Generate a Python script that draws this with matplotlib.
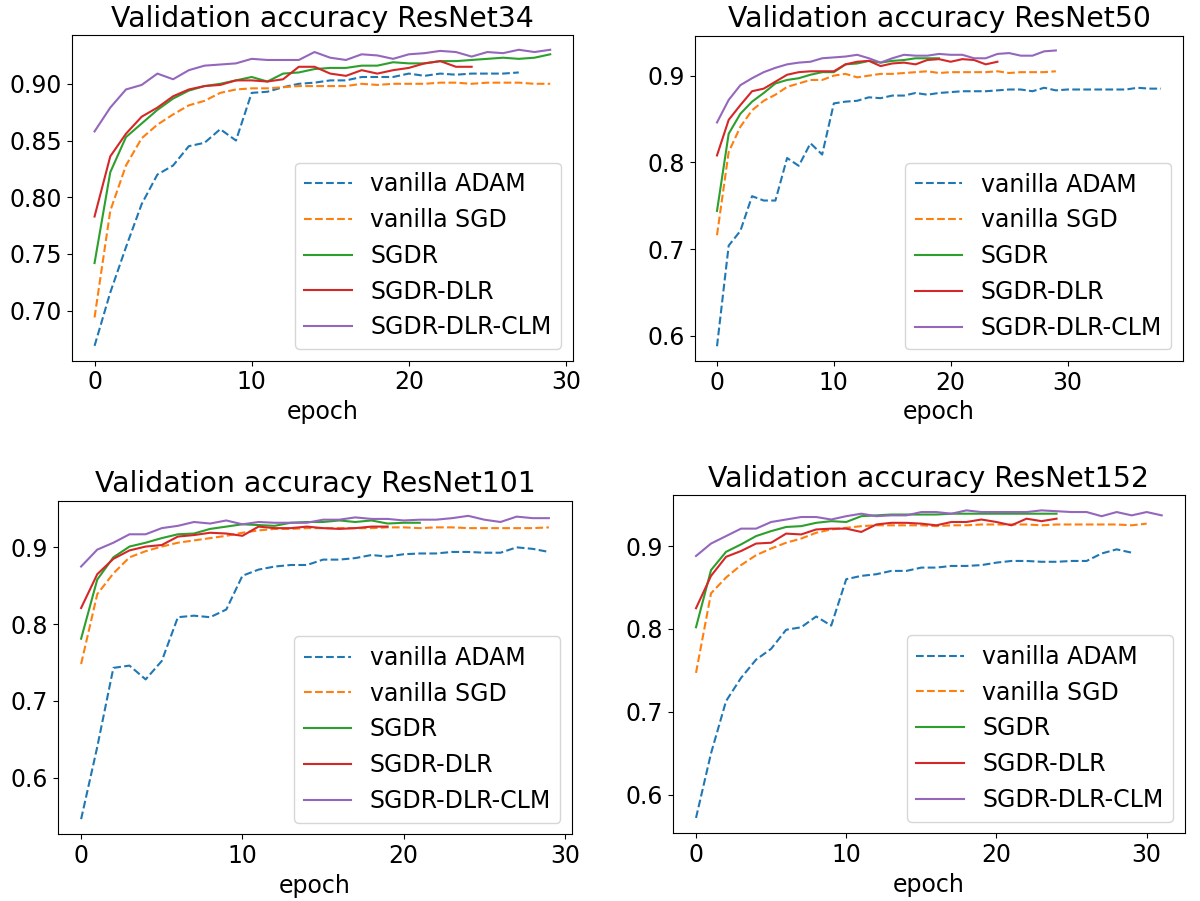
import matplotlib
matplotlib.use("Agg")
import matplotlib.pyplot as plt
from matplotlib.ticker import MultipleLocator

plt.rcParams['font.size'] = 17

labels = ['vanilla ADAM', 'vanilla SGD', 'SGDR', 'SGDR-DLR', 'SGDR-DLR-CLM']
styles = ['--', '--', '-', '-', '-']
colors = ['C0', 'C1', 'C2', 'C3', 'C4']
titles = ['Validation accuracy ResNet34', 'Validation accuracy ResNet50',
          'Validation accuracy ResNet101', 'Validation accuracy ResNet152']

# ResNet34
adam34 = [0.669, 0.716, 0.756, 0.794, 0.820, 0.828, 0.845, 0.848, 0.860, 0.850,
          0.892, 0.893, 0.897, 0.900, 0.901, 0.903, 0.903, 0.906, 0.906, 0.906,
          0.909, 0.907, 0.909, 0.908, 0.909, 0.909, 0.909, 0.910]
sgd34 = [0.694, 0.788, 0.828, 0.852, 0.864, 0.873, 0.881, 0.885, 0.892, 0.895,
         0.896, 0.896, 0.897, 0.898, 0.898, 0.898, 0.898, 0.900, 0.899, 0.900,
         0.900, 0.900, 0.901, 0.901, 0.900, 0.901, 0.901, 0.901, 0.900, 0.900]
sgdr34 = [0.742, 0.822, 0.853, 0.865, 0.877, 0.887, 0.894, 0.898, 0.900, 0.903,
          0.906, 0.902, 0.909, 0.910, 0.913, 0.914, 0.914, 0.916, 0.916, 0.919,
          0.918, 0.918, 0.920, 0.920, 0.921, 0.922, 0.923, 0.922, 0.923, 0.926]
dlr34 = [0.783, 0.836, 0.856, 0.871, 0.879, 0.889, 0.895, 0.898, 0.899, 0.903,
         0.903, 0.902, 0.904, 0.915, 0.915, 0.909, 0.907, 0.912, 0.909, 0.912,
         0.914, 0.918, 0.920, 0.915, 0.915]
clm34 = [0.858, 0.879, 0.895, 0.899, 0.909, 0.904, 0.912, 0.916, 0.917, 0.918,
         0.922, 0.921, 0.921, 0.921, 0.928, 0.923, 0.921, 0.926, 0.925, 0.922,
         0.926, 0.927, 0.929, 0.928, 0.924, 0.928, 0.927, 0.930, 0.928, 0.930]

# ResNet50
adam50 = [0.588, 0.704, 0.721, 0.761, 0.756, 0.756, 0.805, 0.796, 0.822, 0.809,
          0.868, 0.870, 0.871, 0.875, 0.874, 0.877, 0.877, 0.880, 0.878, 0.880,
          0.881, 0.882, 0.882, 0.882, 0.883, 0.884, 0.884, 0.882, 0.886, 0.883,
          0.884, 0.884, 0.884, 0.884, 0.884, 0.884, 0.886, 0.885, 0.885]
sgd50 = [0.716, 0.812, 0.841, 0.860, 0.871, 0.878, 0.887, 0.891, 0.895, 0.895,
         0.900, 0.902, 0.898, 0.900, 0.902, 0.902, 0.903, 0.904, 0.905, 0.903,
         0.904, 0.904, 0.904, 0.904, 0.905, 0.903, 0.904, 0.904, 0.904, 0.905]
sgdr50 = [0.744, 0.833, 0.856, 0.870, 0.880, 0.891, 0.895, 0.897, 0.901, 0.904,
          0.904, 0.913, 0.914, 0.917, 0.915, 0.917, 0.918, 0.920, 0.920, 0.920]
dlr50 = [0.808, 0.849, 0.866, 0.882, 0.885, 0.893, 0.901, 0.904, 0.905, 0.905,
         0.905, 0.913, 0.916, 0.917, 0.911, 0.914, 0.915, 0.913, 0.918, 0.919,
         0.916, 0.919, 0.918, 0.913, 0.916]
clm50 = [0.846, 0.872, 0.889, 0.897, 0.904, 0.909, 0.913, 0.915, 0.916, 0.920,
         0.921, 0.922, 0.924, 0.920, 0.915, 0.920, 0.924, 0.923, 0.923, 0.925,
         0.924, 0.924, 0.920, 0.920, 0.925, 0.926, 0.923, 0.923, 0.928, 0.929]

# ResNet101
adam101 = [0.546, 0.640, 0.743, 0.746, 0.728, 0.752, 0.809, 0.811, 0.809, 0.819,
           0.863, 0.871, 0.875, 0.877, 0.877, 0.884, 0.884, 0.886, 0.890, 0.888,
           0.891, 0.892, 0.892, 0.894, 0.894, 0.893, 0.893, 0.900, 0.898, 0.894]
sgd101 = [0.748, 0.839, 0.866, 0.887, 0.895, 0.901, 0.906, 0.909, 0.912, 0.915,
          0.919, 0.922, 0.924, 0.924, 0.925, 0.925, 0.925, 0.925, 0.925, 0.926,
          0.926, 0.925, 0.926, 0.926, 0.925, 0.925, 0.925, 0.925, 0.925, 0.926]
sgdr101 = [0.781, 0.858, 0.887, 0.901, 0.906, 0.912, 0.917, 0.918, 0.924, 0.927,
           0.930, 0.929, 0.928, 0.932, 0.933, 0.933, 0.935, 0.933, 0.935, 0.931,
           0.932, 0.932]
dlr101 = [0.821, 0.865, 0.885, 0.896, 0.901, 0.903, 0.914, 0.916, 0.919, 0.918,
          0.915, 0.927, 0.925, 0.925, 0.927, 0.925, 0.924, 0.925, 0.927, 0.927]
clm101 = [0.875, 0.897, 0.906, 0.917, 0.917, 0.925, 0.928, 0.933, 0.931, 0.935,
          0.930, 0.933, 0.932, 0.932, 0.932, 0.936, 0.936, 0.939, 0.937, 0.937,
          0.935, 0.936, 0.936, 0.938, 0.941, 0.936, 0.933, 0.940, 0.938, 0.938]

# ResNet152
adam152 = [0.572, 0.650, 0.713, 0.741, 0.763, 0.776, 0.799, 0.802, 0.815, 0.804,
           0.860, 0.864, 0.866, 0.870, 0.870, 0.874, 0.874, 0.876, 0.876, 0.877,
           0.880, 0.882, 0.882, 0.881, 0.881, 0.882, 0.882, 0.891, 0.896, 0.892]
sgd152 = [0.747, 0.843, 0.862, 0.877, 0.889, 0.897, 0.904, 0.909, 0.916, 0.920,
          0.922, 0.924, 0.925, 0.925, 0.925, 0.925, 0.924, 0.925, 0.925, 0.926,
          0.926, 0.926, 0.926, 0.925, 0.926, 0.926, 0.926, 0.926, 0.926, 0.925,
          0.927]
sgdr152 = [0.802, 0.871, 0.893, 0.902, 0.912, 0.918, 0.923, 0.924, 0.928, 0.930,
           0.929, 0.936, 0.937, 0.938, 0.938, 0.938, 0.938, 0.939, 0.939, 0.939,
           0.939, 0.939, 0.939, 0.939, 0.939]
dlr152 = [0.825, 0.864, 0.887, 0.894, 0.903, 0.904, 0.915, 0.914, 0.920, 0.921,
          0.921, 0.917, 0.926, 0.928, 0.928, 0.927, 0.925, 0.929, 0.929, 0.932,
          0.929, 0.925, 0.933, 0.930, 0.933]
clm152 = [0.888, 0.903, 0.912, 0.921, 0.921, 0.929, 0.932, 0.935, 0.935, 0.932,
          0.936, 0.939, 0.936, 0.937, 0.937, 0.941, 0.941, 0.939, 0.943, 0.941,
          0.941, 0.941, 0.941, 0.943, 0.942, 0.941, 0.941, 0.936, 0.941, 0.937,
          0.941, 0.937]

panels = [
    [adam34, sgd34, sgdr34, dlr34, clm34],
    [adam50, sgd50, sgdr50, dlr50, clm50],
    [adam101, sgd101, sgdr101, dlr101, clm101],
    [adam152, sgd152, sgdr152, dlr152, clm152],
]

# axes rectangles (left, bottom, width, height) in figure fractions
rects = [
    (0.0598, 0.5997, 0.4177, 0.3615),
    (0.5790, 0.5993, 0.4070, 0.3611),
    (0.0481, 0.0740, 0.4288, 0.3703),
    (0.5606, 0.0751, 0.4269, 0.3755),
]

fig = plt.figure(figsize=(12, 9.01), dpi=100)
for title, series, rect in zip(titles, panels, rects):
    ax = fig.add_axes(rect)
    for ys, lab, ls, c in zip(series, labels, styles, colors):
        ax.plot(range(len(ys)), ys, ls, color=c, label=lab)
    ax.xaxis.set_major_locator(MultipleLocator(10))
    ax.set_title(title, fontsize=20.4)
    ax.set_xlabel('epoch')
    ax.legend(loc='lower right')

fig.savefig('out.png', dpi=100)
